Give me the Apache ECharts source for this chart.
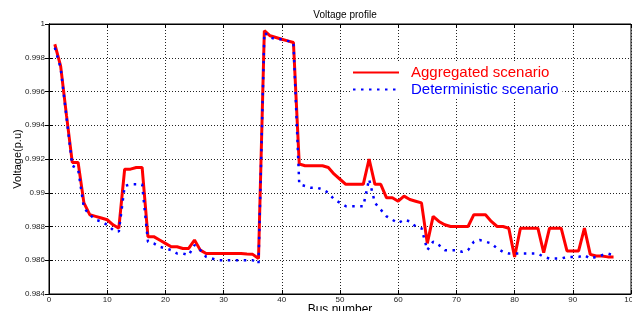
<!DOCTYPE html>
<html lang="en">
<head>
  <meta charset="UTF-8">
  <title>Voltage profile</title>
  <script src="https://cdn.jsdelivr.net/npm/echarts@6/dist/echarts.min.js"></script>
  <style>
    body { margin: 0; background: #fff; }
    #chart { width: 632px; height: 311px; }
  </style>
</head>
<body>
  <div id="chart"></div>
  <script>
    // bus numbers (x axis)
    const buses = [
      1, 2, 3, 4, 5, 6, 7, 8, 9, 10, 11, 12, 13, 14, 15, 16, 17, 18, 19, 20,
      21, 22, 23, 24, 25, 26, 27, 28, 29, 30, 31, 32, 33, 34, 35, 36, 37, 38, 39, 40,
      41, 42, 43, 44, 45, 46, 47, 48, 49, 50, 51, 52, 53, 54, 55, 56, 57, 58, 59, 60,
      61, 62, 63, 64, 65, 66, 67, 68, 69, 70, 71, 72, 73, 74, 75, 76, 77, 78, 79, 80,
      81, 82, 83, 84, 85, 86, 87, 88, 89, 90, 91, 92, 93, 94, 95, 96, 97
    ];

    // Aggregated scenario (red)
    const aggregated = [
      0.9988, 0.9975, 0.9946, 0.9918, 0.9918, 0.9894, 0.9887, 0.9886, 0.9885, 0.9884,
      0.9881, 0.9879, 0.9914, 0.9914, 0.9915, 0.9915, 0.9874, 0.9874, 0.9872, 0.9870,
      0.9868, 0.9868, 0.9867, 0.9867, 0.9872, 0.9866, 0.9864, 0.9864, 0.9864, 0.9864,
      0.9864, 0.9864, 0.9864, 0.98637, 0.98635, 0.9861, 0.9996, 0.9993, 0.9992, 0.9991,
      0.9990, 0.9989, 0.9917, 0.9916, 0.9916, 0.9916, 0.9916, 0.9915, 0.9911, 0.9908,
      0.9905, 0.9905, 0.9905, 0.9905, 0.9920, 0.9905, 0.9905, 0.9897, 0.9897, 0.9895,
      0.9898, 0.9896, 0.9895, 0.9894, 0.9870, 0.9886, 0.9883, 0.9881, 0.9880, 0.9880,
      0.9880, 0.9880, 0.9887, 0.9887, 0.9887, 0.9883, 0.9880, 0.9880, 0.9879, 0.9862,
      0.9879, 0.9879, 0.9879, 0.9879, 0.98645, 0.9879, 0.9879, 0.9879, 0.98655, 0.98655,
      0.98655, 0.9879, 0.98635, 0.98625, 0.98625, 0.9862, 0.9862
    ];

    // Deterministic scenario (blue, dotted)
    const deterministic = [
      0.9986, 0.9974, 0.9945, 0.9916, 0.9914, 0.9891, 0.9887, 0.9884, 0.9883, 0.9881,
      0.9878, 0.9877, 0.9904, 0.9905, 0.9905, 0.9905, 0.9871, 0.9870, 0.9868, 0.9867,
      0.9866, 0.9864, 0.9864, 0.9863, 0.9869, 0.9866, 0.9862, 0.9861, 0.9860, 0.9860,
      0.9860, 0.9860, 0.9860, 0.9860, 0.9860, 0.9858, 0.9995, 0.9992, 0.9991, 0.9991,
      0.9990, 0.9989, 0.9905, 0.9904, 0.9903, 0.9903, 0.9902, 0.9900, 0.9896, 0.9894,
      0.9892, 0.9892, 0.9892, 0.9892, 0.9908, 0.9894, 0.9890, 0.9886, 0.9884, 0.9882,
      0.9884, 0.9883, 0.9880, 0.9879, 0.9866, 0.9871, 0.9869, 0.9866, 0.9866, 0.9866,
      0.9865, 0.9866, 0.9871, 0.9872, 0.9871, 0.9870, 0.9867, 0.9865, 0.9864, 0.9864,
      0.9864, 0.9864, 0.9864, 0.9864, 0.9862, 0.9861, 0.9861, 0.9861, 0.9862, 0.9862,
      0.9862, 0.9863, 0.9861, 0.9862, 0.9863, 0.9864, 0.9863
    ];

    const xTicks = { min: 0, max: 100, interval: 10 };
    const yTicks = { min: 0.984, max: 1, interval: 0.002 };

    const chart = echarts.init(document.getElementById('chart'), null, { renderer: 'canvas' });

    const font = 'Liberation Sans, Arial, sans-serif';
    const gridDots = { color: '#222', width: 1, type: [1, 2] };

    const option = {
      animation: false,
      backgroundColor: '#fff',
      textStyle: { fontFamily: font },
      title: {
        text: 'Voltage profile',
        left: 340,
        top: 5,
        textAlign: 'center',
        textStyle: { fontSize: 10, fontWeight: 'normal', color: '#000', fontFamily: font }
      },
      legend: {
        orient: 'vertical',
        left: 350,
        top: 63,
        itemWidth: 46,
        itemHeight: 14,
        itemGap: 2,
        backgroundColor: '#fff',
        padding: [2, 4, 2, 2],
        itemStyle: { color: 'transparent', borderWidth: 0, opacity: 0 },
        textStyle: { fontSize: 15, lineHeight: 14, padding: [0, 0, 0, 7], fontFamily: font },
        data: [
          { name: 'Aggregated scenario', textStyle: { color: '#ff0000' } },
          { name: 'Deterministic scenario', textStyle: { color: '#0000ff' } }
        ]
      },
      grid: {
        left: 49, right: 1, top: 24, bottom: 17,
        outerBoundsMode: 'none',
        containLabel: false,
        show: true, borderColor: '#000', borderWidth: 1, backgroundColor: 'transparent'
      },
      xAxis: [
        {
          type: 'value',
          min: xTicks.min, max: xTicks.max, interval: xTicks.interval,
          name: 'Bus number',
          nameLocation: 'middle',
          nameGap: 10,
          nameMoveOverlap: false,
          nameTextStyle: { fontSize: 12, color: '#000', fontFamily: font },
          axisLine: { lineStyle: { color: '#000', width: 1 } },
          axisTick: { inside: true, length: 4, lineStyle: { color: '#000' } },
          axisLabel: { fontSize: 8, color: '#222', margin: 2, fontFamily: font },
          splitLine: { show: true, lineStyle: gridDots }
        },
        {
          type: 'value', position: 'top',
          min: xTicks.min, max: xTicks.max, interval: xTicks.interval,
          axisLine: { lineStyle: { color: '#000' } },
          axisTick: { inside: true, length: 4, lineStyle: { color: '#000' } },
          axisLabel: { show: false },
          splitLine: { show: false }
        }
      ],
      yAxis: [
        {
          type: 'value',
          min: yTicks.min, max: yTicks.max, interval: yTicks.interval,
          name: 'Voltage(p.u)',
          nameLocation: 'middle',
          nameRotate: 90,
          nameGap: 26,
          nameMoveOverlap: false,
          nameTextStyle: { fontSize: 11, color: '#000', fontFamily: font },
          axisLine: { show: true, lineStyle: { color: '#000', width: 1 } },
          axisTick: { show: true, inside: true, length: 4, lineStyle: { color: '#000' } },
          axisLabel: { fontSize: 8, color: '#222', margin: 4, fontFamily: font },
          splitLine: { show: true, lineStyle: gridDots }
        },
        {
          type: 'value', position: 'right',
          min: yTicks.min, max: yTicks.max, interval: yTicks.interval,
          axisLine: { show: true, lineStyle: { color: '#000' } },
          axisTick: { show: true, inside: true, length: 4, lineStyle: { color: '#000' } },
          axisLabel: { show: false },
          splitLine: { show: false }
        }
      ],
      series: [
        {
          name: 'Aggregated scenario',
          type: 'line',
          symbol: 'none',
          data: buses.map((b, i) => [b, aggregated[i]]),
          lineStyle: { color: '#ff0000', width: 3 },
          itemStyle: { color: '#ff0000' },
          z: 3
        },
        {
          name: 'Deterministic scenario',
          type: 'line',
          symbol: 'none',
          data: buses.map((b, i) => [b, deterministic[i]]),
          lineStyle: { color: '#0000ff', width: 2.5, type: [2.5, 5.5] },
          itemStyle: { color: '#0000ff' },
          z: 4
        }
      ]
    };

    chart.setOption(option);
  </script>
</body>
</html>
